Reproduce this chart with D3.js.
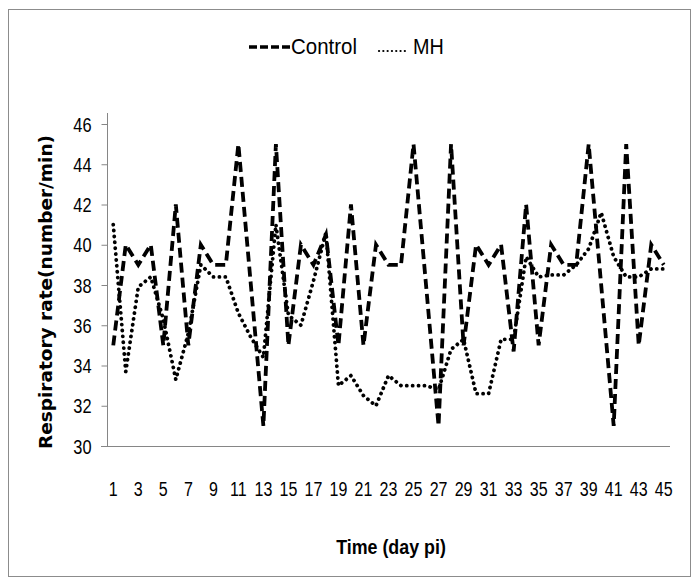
<!DOCTYPE html>
<html><head><meta charset="utf-8">
<script src="https://cdn.jsdelivr.net/npm/d3@7"></script>
<style>body{margin:0;background:#fff}svg{display:block}</style>
</head><body>
<script>
const days = d3.range(1, 46);
const control = [35,40,39,40,35,42,35,40,39,39,45,38,31,45,35,40,39,40.5,35,42,35,40,39,39,45,38,31,45,35,40,39,40,34.7,42,35,40,39,39,45,38,31,45,35,40,39];
const mh = [41,33.7,37.9,38.4,36.3,33.3,35.6,39,38.4,38.4,36.6,35.4,34.4,41,36.5,36,38.2,40.6,33,33.5,32.5,32,33.5,33,33,33,32.8,34.8,35.3,32.6,32.6,35.3,35.3,39.4,38.4,38.5,38.5,39,39.8,41.6,39.4,38.4,38.4,38.8,38.8];
const yTicks = [30,32,34,36,38,40,42,44,46];
const xTickLabels = days.filter(d => d % 2 === 1);

const W = 698, H = 585;
const svg = d3.select("body").append("svg").attr("width", W).attr("height", H);
const font = "'Liberation Sans',Arial,sans-serif";

svg.append("rect").attr("x", 8.5).attr("y", 9.5).attr("width", 682).attr("height", 567)
  .attr("fill", "#fff").attr("stroke", "#8c8c8c").attr("stroke-width", 1);

const x = d3.scaleBand().domain(days).range([107, 670]).padding(0);
const cx = d => x(d) + x.bandwidth() / 2;
const y = d3.scaleLinear().domain([30, 46]).range([446, 124]);

// y axis
const ya = svg.append("g").attr("transform", "translate(107.5,0)")
  .call(d3.axisLeft(y).tickValues(yTicks).tickSize(6).tickFormat(d3.format("d")));
ya.select(".domain").attr("d", "M0,113V446.5").attr("stroke", "#868686");
ya.selectAll(".tick line").attr("stroke", "#868686");
ya.selectAll(".tick text").attr("x", 0).attr("dy", "0.36em")
  .attr("transform", "translate(-16,0) scale(0.82,1)")
  .attr("font-family", font).attr("font-size", 20).attr("fill", "#000");

// x axis
const xa = svg.append("g").attr("transform", "translate(0,446.5)")
  .call(d3.axisBottom(x).tickValues(xTickLabels).tickSize(0).tickPadding(35));
xa.select(".domain").attr("d", "M101,0H670").attr("stroke", "#868686");
xa.selectAll(".tick text").attr("transform", "scale(0.8,1)")
  .attr("font-family", font).attr("font-size", 20).attr("fill", "#000");

const line = vals => d3.line().x((v, i) => cx(days[i])).y(v => y(v))(vals);

svg.append("path").attr("d", line(mh)).attr("fill", "none").attr("stroke", "#000")
  .attr("stroke-width", 3.8).attr("stroke-dasharray", "0.1,5.8").attr("stroke-linecap", "round");
svg.append("path").attr("d", line(control)).attr("fill", "none").attr("stroke", "#000")
  .attr("stroke-width", 3.8).attr("stroke-dasharray", "10,5").attr("stroke-linecap", "butt");

// legend
const lg = svg.append("g");
lg.append("line").attr("x1", 249).attr("x2", 290).attr("y1", 47).attr("y2", 47)
  .attr("stroke", "#000").attr("stroke-width", 3.5).attr("stroke-dasharray", "8,3");
lg.append("text").attr("transform", "translate(291,54) scale(0.93,1)").text("Control")
  .attr("font-family", font).attr("font-size", 22);
lg.append("line").attr("x1", 379).attr("x2", 408).attr("y1", 51).attr("y2", 51)
  .attr("stroke", "#000").attr("stroke-width", 2.2).attr("stroke-dasharray", "0.1,4.2").attr("stroke-linecap", "round");
lg.append("text").attr("transform", "translate(413,54) scale(0.9,1)").text("MH")
  .attr("font-family", font).attr("font-size", 22);

// axis titles
svg.append("text").attr("transform", "translate(52,292) rotate(-90)").attr("text-anchor", "middle")
  .attr("font-family", "'DejaVu Sans',sans-serif").attr("font-weight", "bold").attr("font-size", 18.5)
  .text("Respiratory rate(number/min)");
svg.append("text").attr("transform", "translate(391,554) scale(0.85,1)").attr("text-anchor", "middle")
  .attr("font-family", font).attr("font-weight", "bold").attr("font-size", 21)
  .text("Time (day pi)");
</script>
</body></html>
